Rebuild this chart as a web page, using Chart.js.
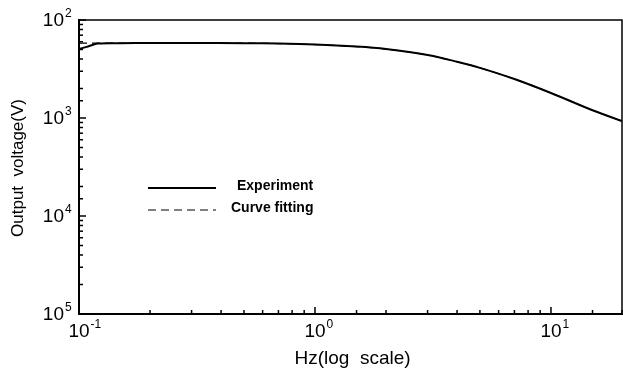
<!DOCTYPE html>
<html>
<head>
<meta charset="utf-8">
<script src="https://cdn.jsdelivr.net/npm/chart.js@4/dist/chart.umd.min.js"></script>
<style>
  html, body { margin: 0; padding: 0; background: #fff; }
  #wrap { width: 623px; height: 376px; }
</style>
</head>
<body>
<div id="wrap"><canvas id="chart" width="623" height="376"></canvas></div>
<script>
// frequency (Hz) and output voltage (V)
const freq       = [0.1, 0.11, 0.12, 0.15, 0.2, 0.3, 0.5, 0.7, 1.0, 1.5, 2, 3, 4, 5, 7, 10, 15, 20];
const experiment = [5.05e-3, 5.4e-3, 5.75e-3, 5.8e-3, 5.82e-3, 5.82e-3, 5.8e-3, 5.75e-3, 5.62e-3, 5.35e-3, 5.05e-3, 4.4e-3, 3.75e-3, 3.25e-3, 2.5e-3, 1.8e-3, 1.2e-3, 0.93e-3];
const fitting    = [5.8e-3, 5.8e-3, 5.8e-3, 5.8e-3, 5.82e-3, 5.82e-3, 5.8e-3, 5.75e-3, 5.62e-3, 5.35e-3, 5.05e-3, 4.4e-3, 3.75e-3, 3.25e-3, 2.5e-3, 1.8e-3, 1.2e-3, 0.93e-3];

// tick labels (exponents of 10) as printed on the figure
const xDecades   = [0.1, 1, 10];
const xExponents = ['-1', '0', '1'];
const yDecades   = [1e-2, 1e-3, 1e-4, 1e-5];
const yExponents = ['2', '3', '4', '5'];

const legendItems = ['Experiment', 'Curve fitting'];
const xTitle = 'Hz(log  scale)';
const yTitle = 'Output  voltage(V)';

const FONT = '"Liberation Sans", Arial, sans-serif';

function isDecade(v) {
    const l = Math.log10(v);
    return Math.abs(l - Math.round(l)) < 1e-6;
}

// draws inward ticks, labels, titles, the box frame and the legend
const frame = {
    id: 'frame',
    afterDraw(chart) {
        const ctx = chart.ctx;
        const a = chart.chartArea;
        const xs = chart.scales.x, ys = chart.scales.y;
        ctx.save();
        ctx.strokeStyle = '#000';
        ctx.fillStyle = '#000';

        // top and right sides of the box
        ctx.lineWidth = 1.5;
        ctx.beginPath();
        ctx.moveTo(a.left, a.top);
        ctx.lineTo(a.right, a.top);
        ctx.lineTo(a.right, a.bottom);
        ctx.stroke();

        // tick marks pointing into the plot
        xs.ticks.forEach(t => {
            const px = xs.getPixelForValue(t.value);
            const len = isDecade(t.value) ? 7 : 4;
            ctx.beginPath();
            ctx.moveTo(px, a.bottom);
            ctx.lineTo(px, a.bottom - len);
            ctx.stroke();
        });
        ys.ticks.forEach(t => {
            const py = ys.getPixelForValue(t.value);
            const len = isDecade(t.value) ? 7 : 4;
            ctx.beginPath();
            ctx.moveTo(a.left, py);
            ctx.lineTo(a.left + len, py);
            ctx.stroke();
        });

        // tick labels: "10" with raised exponent
        ctx.textBaseline = 'middle';
        xDecades.forEach((v, i) => {
            const px = xs.getPixelForValue(v);
            ctx.font = '19px ' + FONT;
            const w = ctx.measureText('10').width;
            ctx.textAlign = 'center';
            ctx.fillText('10', px, a.bottom + 18);
            ctx.font = '12px ' + FONT;
            ctx.textAlign = 'left';
            ctx.fillText(xExponents[i], px + w / 2 + 1, a.bottom + 11);
        });
        yDecades.forEach((v, i) => {
            const py = ys.getPixelForValue(v);
            ctx.font = '19px ' + FONT;
            ctx.textAlign = 'right';
            ctx.fillText('10', a.left - 15, py + 1);
            ctx.font = '12px ' + FONT;
            ctx.textAlign = 'left';
            ctx.fillText(yExponents[i], a.left - 14, py - 6);
        });

        // axis titles
        ctx.font = '19px ' + FONT;
        ctx.textAlign = 'center';
        ctx.fillText(xTitle, (a.left + a.right) / 2 + 2, a.bottom + 45);
        ctx.font = '17px ' + FONT;
        ctx.save();
        ctx.translate(18, (a.top + a.bottom) / 2 + 1);
        ctx.rotate(-Math.PI / 2);
        ctx.fillText(yTitle, 0, 0);
        ctx.restore();

        // legend
        const lx = a.left + 69, ly = a.top + 168;
        ctx.font = 'bold 14px ' + FONT;
        ctx.textAlign = 'left';
        ctx.lineWidth = 2;
        ctx.beginPath();
        ctx.moveTo(lx, ly);
        ctx.lineTo(lx + 68, ly);
        ctx.stroke();
        ctx.fillText(legendItems[0], lx + 89, ly - 2);
        ctx.lineWidth = 1.2;
        ctx.setLineDash([8, 5]);
        ctx.beginPath();
        ctx.moveTo(lx, ly + 22);
        ctx.lineTo(lx + 68, ly + 22);
        ctx.stroke();
        ctx.setLineDash([]);
        ctx.fillText(legendItems[1], lx + 83, ly + 20);
        ctx.restore();
    }
};

const ctx = document.getElementById('chart').getContext('2d');
new Chart(ctx, {
    type: 'line',
    data: {
        datasets: [{
            label: legendItems[0],
            data: freq.map((f, i) => ({ x: f, y: experiment[i] })),
            borderColor: '#000',
            borderWidth: 2,
            pointRadius: 0,
            tension: 0.3,
            fill: false
        }, {
            label: legendItems[1],
            data: freq.map((f, i) => ({ x: f, y: fitting[i] })),
            borderColor: '#000',
            borderWidth: 1.2,
            borderDash: [8, 5],
            pointRadius: 0,
            tension: 0.3,
            fill: false
        }]
    },
    plugins: [frame],
    options: {
        responsive: false,
        animation: false,
        layout: { padding: { top: 20, right: 1, left: 0, bottom: 0 } },
        plugins: {
            legend: { display: false },
            tooltip: { enabled: false }
        },
        scales: {
            x: {
                type: 'logarithmic',
                min: 0.1,
                max: 20,
                grid: { display: false },
                border: { display: true, color: '#000', width: 2 },
                ticks: { display: false, autoSkip: false },
                afterFit: s => {
                    s.height = 62;
                    s.paddingLeft = 0;
                    s.paddingRight = 0;
                }
            },
            y: {
                type: 'logarithmic',
                min: 1e-5,
                max: 1e-2,
                grid: { display: false },
                border: { display: true, color: '#000', width: 2 },
                ticks: { display: false, autoSkip: false },
                afterFit: s => {
                    s.width = 79;
                    s.paddingTop = 0;
                    s.paddingBottom = 0;
                }
            }
        }
    }
});
</script>
</body>
</html>
